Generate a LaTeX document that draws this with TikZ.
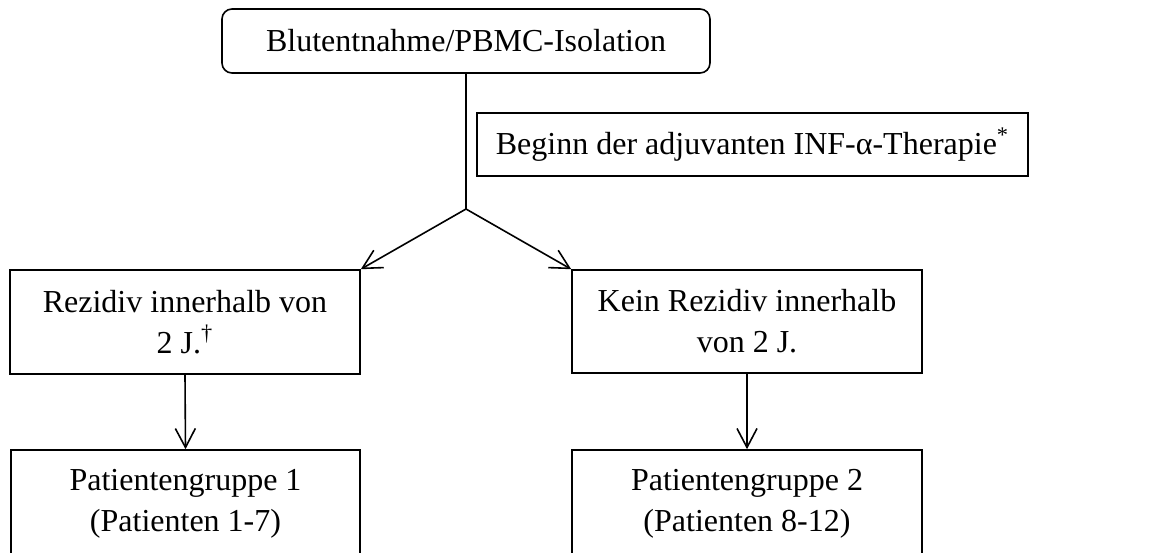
\documentclass[tikz,border=0pt]{standalone}
\usepackage{fontspec}
\setmainfont{Liberation Serif}
\usetikzlibrary{arrows.meta}
\begin{document}
\begin{tikzpicture}[x=0.5pt,y=-0.5pt,
  every node/.style={font=\fontsize{16pt}{20.5pt}\selectfont},
  box/.style={draw, line width=0.8pt, align=center, inner sep=0pt},
  conn/.style={line width=0.8pt, -{Straight Barb[length=9.5pt,width=10pt]}},
  plain/.style={line width=0.8pt}]
\clip (0,0) rectangle (1162,552);
\fill[white] (0,0) rectangle (1162,552);
\node[box, rounded corners=5pt, minimum width=244pt, minimum height=32pt] (top) at (466,41) {Blutentnahme/PBMC-Isolation};
\node[box, minimum width=275.5pt, minimum height=31.5pt] (inf) at (752.5,144.5) {Beginn der adjuvanten INF-α-Therapie\textsuperscript{*}};
\coordinate (j) at (466,209);
\node[box, minimum width=175pt, minimum height=52pt] (r1) at (185,322) {Rezidiv innerhalb von\\2 J.\textsuperscript{†}};
\node[box, minimum width=175pt, minimum height=51.5pt] (r2) at (747,321.5) {Kein Rezidiv innerhalb\\von 2 J.};
\node[box, minimum width=174.5pt, minimum height=54pt] (g1) at (185.5,504) {Patientengruppe 1\\(Patienten 1-7)};
\node[box, minimum width=175pt, minimum height=54pt] (g2) at (747,504) {Patientengruppe 2\\(Patienten 8-12)};
\draw[plain] (top.south) -- (j);
\draw[conn] (j) -- (r1.north east);
\draw[conn] (j) -- (r2.north west);
\draw[conn] (r1.south) -- (g1.north);
\draw[conn] (r2.south) -- (g2.north);
\end{tikzpicture}
\end{document}
